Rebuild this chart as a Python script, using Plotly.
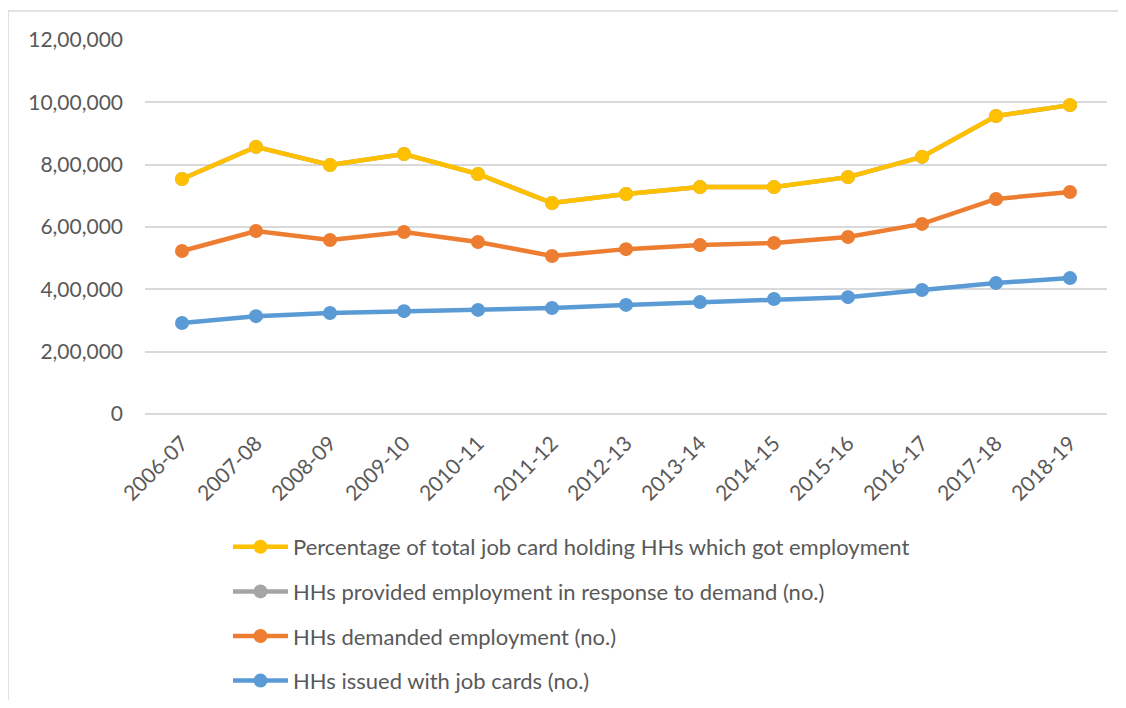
import plotly.graph_objects as go

years = ["2006-07", "2007-08", "2008-09", "2009-10", "2010-11", "2011-12", "2012-13",
         "2013-14", "2014-15", "2015-16", "2016-17", "2017-18", "2018-19"]

job_cards = [292000, 314000, 324000, 330000, 334000, 340000, 350000,
             359000, 369000, 375000, 398000, 420000, 436000]
demanded = [231000, 273000, 234000, 254000, 218000, 167000, 179000,
            183000, 180000, 193000, 212000, 270000, 276000]
provided = [231000, 270000, 241000, 250000, 218000, 170000, 177000,
            186000, 179000, 192000, 215000, 266000, 279000]
pct_employed = [79, 86, 74, 76, 65, 50, 51, 52, 49, 51, 54, 63, 64]

names = ["HHs issued with job cards (no.)",
         "HHs demanded employment (no.)",
         "HHs provided employment in response to demand (no.)",
         "Percentage of total job card holding HHs which got employment"]
colors = ["#5B9BD5", "#ED7D31", "#A5A5A5", "#FFC000"]
series = [job_cards, demanded, provided, pct_employed]

ytick_vals = [0, 200000, 400000, 600000, 800000, 1000000, 1200000]
ytick_text = ["0", "2,00,000", "4,00,000", "6,00,000", "8,00,000", "10,00,000", "12,00,000"]

W, H = 1110, 692  # page body has an 8px margin

fig = go.Figure()
for i, (n, c, s) in enumerate(zip(names, colors, series)):
    fig.add_trace(go.Scatter(
        x=years, y=s, name=n, mode="lines+markers",
        stackgroup="one", fill="none", legendgroup=f"g{i}",
        legendrank=100 - i,
        line=dict(color=c, width=4.5),
        marker=dict(color=c, size=14),
    ))

fig.update_layout(
    width=W, height=H,
    margin=dict(l=137, r=11, t=32, b=286, autoexpand=False),
    paper_bgcolor="white", plot_bgcolor="white",
    font=dict(family="Lato, Calibri, sans-serif", color="#595959", size=19),
    showlegend=True,
    legend=dict(
        xref="container", yref="container",
        x=220 / W, y=1 - 518 / H, xanchor="left", yanchor="top",
        traceorder="grouped", tracegroupgap=13, itemwidth=55,
        font=dict(size=22, color="#595959"),
        bgcolor="rgba(0,0,0,0)",
    ),
    xaxis=dict(
        type="category", range=[-0.5, 12.5], tickangle=-45,
        showgrid=False, showline=False, ticks="", automargin=False,
        ticklabelstandoff=12,
        tickfont=dict(size=21, color="#595959"),
    ),
    yaxis=dict(
        range=[0, 1200000], tickvals=ytick_vals, ticktext=ytick_text,
        showgrid=True, gridcolor="#D9D9D9", gridwidth=1.5,
        zeroline=True, zerolinecolor="#D9D9D9", zerolinewidth=1.5,
        showline=False, ticks="", ticklabelstandoff=21, automargin=False,
        tickfont=dict(size=21, color="#595959"),
    ),
    shapes=[dict(type="rect", xref="paper", yref="paper",
                 x0=-137 / 962, x1=1.2, y0=-1.2, y1=(374 + 29) / 374,
                 line=dict(color="#D9D9D9", width=1.5), fillcolor="rgba(0,0,0,0)",
                 layer="below")],
)

fig.write_html("out.html")
